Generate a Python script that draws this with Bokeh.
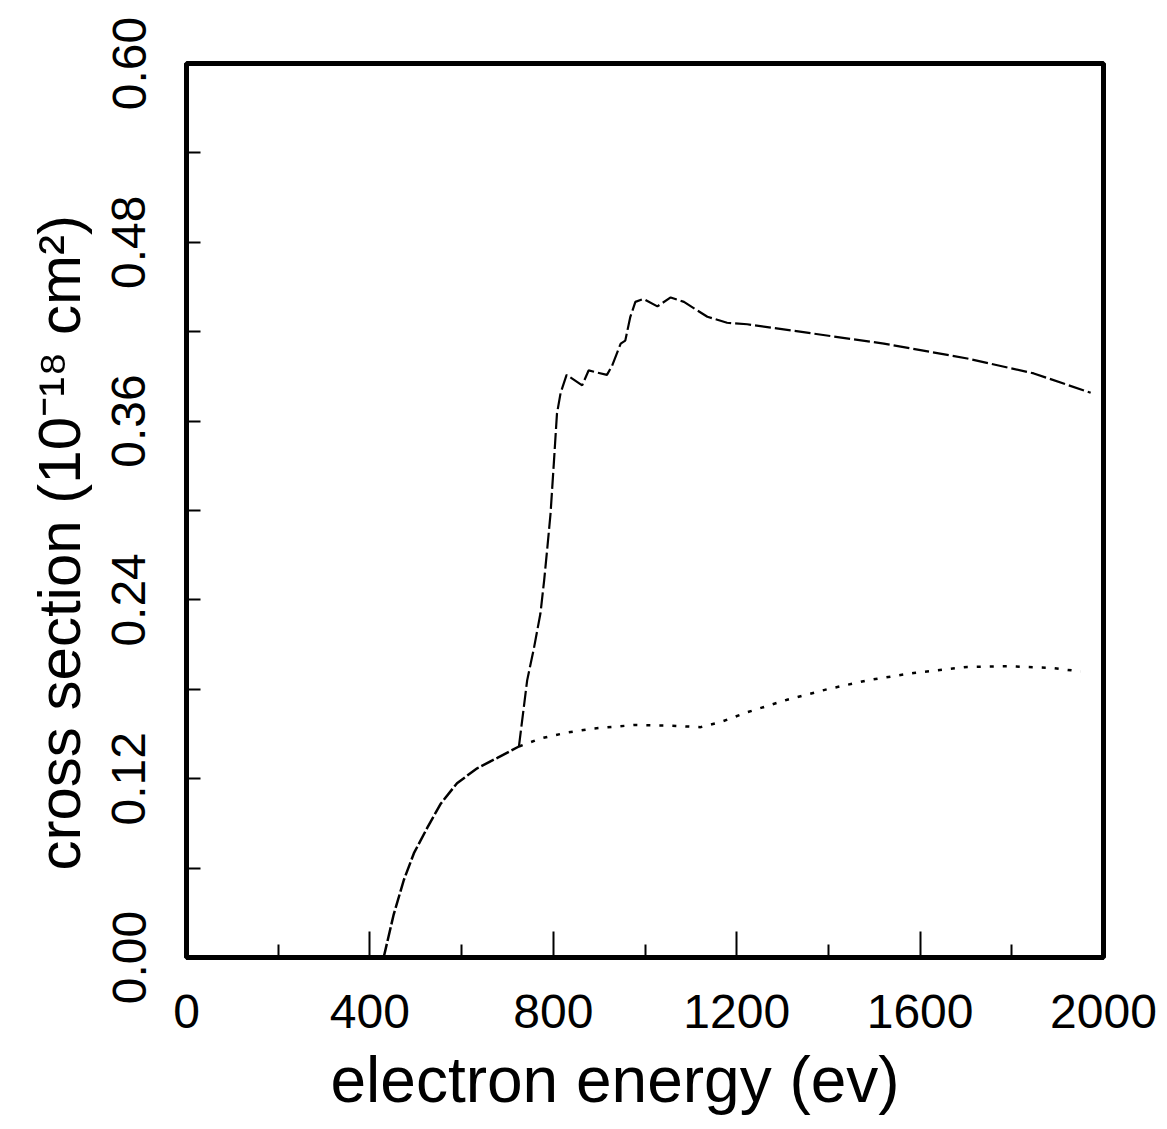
from bokeh.plotting import figure
from bokeh.models import Range1d, FixedTicker, NumeralTickFormatter, Title
from bokeh.embed import file_html
from bokeh.resources import INLINE

# ---- data (electron energy in eV, cross section in 1e-18 cm^2) ----
low_x = [430, 452, 474, 496, 525, 554, 590, 634, 678, 725]
low_y = [0.0, 0.029, 0.052, 0.070, 0.087, 0.103, 0.117, 0.127, 0.134, 0.1416]

up_x = [725, 743, 758, 772, 780, 787, 794, 801, 808, 816, 829, 863, 877, 917, 928,
        947, 957, 968, 979, 997, 1027, 1056, 1085, 1136, 1179, 1223, 1361, 1521,
        1703, 1848, 1972]
up_y = [0.1416, 0.186, 0.208, 0.231, 0.253, 0.275, 0.298, 0.331, 0.365, 0.379,
        0.391, 0.384, 0.394, 0.391, 0.397, 0.412, 0.414, 0.430, 0.440, 0.442,
        0.437, 0.443, 0.440, 0.430, 0.426, 0.425, 0.419, 0.412, 0.402, 0.392, 0.379]

dot_x = [725, 772, 830, 888, 976, 1048, 1121, 1165, 1223, 1310, 1397, 1485, 1586,
         1703, 1790, 1884, 1950]
dot_y = [0.1416, 0.147, 0.151, 0.1537, 0.156, 0.1557, 0.1546, 0.158, 0.1646,
         0.173, 0.180, 0.186, 0.191, 0.195, 0.1955, 0.1944, 0.192]

x_major = [0, 400, 800, 1200, 1600, 2000]
x_minor = [200, 600, 1000, 1400, 1800]
y_major = [0.0, 0.12, 0.24, 0.36, 0.48, 0.60]
y_minor = [0.06, 0.18, 0.30, 0.42, 0.54]

x_title = "electron energy (ev)"
y_title = "cross section (10\u207b\u00b9\u2078 cm\u00b2)"

FONT = "Liberation Sans"

p = figure(width=1167, height=1129,
           x_range=Range1d(0, 2000), y_range=Range1d(0, 0.6),
           output_backend="svg", toolbar_location=None,
           min_border_left=186, min_border_right=64,
           min_border_top=63, min_border_bottom=172)
p.grid.visible = False
p.background_fill_color = "white"
p.border_fill_color = "white"
p.outline_line_color = "black"
p.outline_line_width = 5

# x axis
xa = p.xaxis[0]
xa.ticker = FixedTicker(ticks=x_major, minor_ticks=x_minor)
xa.axis_line_width = 5
xa.major_tick_in = 26
xa.major_tick_out = 0
xa.minor_tick_in = 13
xa.minor_tick_out = 0
xa.major_tick_line_width = 2
xa.minor_tick_line_width = 2
xa.major_label_text_font = FONT
xa.major_label_text_font_size = "48px"
xa.major_label_text_color = "black"
xa.major_label_standoff = 37

# y axis
ya = p.yaxis[0]
ya.ticker = FixedTicker(ticks=y_major, minor_ticks=y_minor)
ya.formatter = NumeralTickFormatter(format="0.00")
ya.axis_line_width = 5
ya.major_tick_in = 14
ya.major_tick_out = 0
ya.minor_tick_in = 14
ya.minor_tick_out = 0
ya.major_tick_line_width = 2
ya.minor_tick_line_width = 2
ya.major_label_text_font = FONT
ya.major_label_text_font_size = "48px"
ya.major_label_text_color = "black"
ya.major_label_orientation = "vertical"
ya.major_label_standoff = 41

# curves
p.line(low_x, low_y, line_color="black", line_width=2.5, line_dash="14 3")
p.line(up_x, up_y, line_color="black", line_width=2.2, line_dash="16 4")
p.line(dot_x, dot_y, line_color="black", line_width=2.5, line_dash="4 9")

# titles
p.add_layout(Title(text=x_title, align="left", offset=144, standoff=22,
                   text_font=FONT, text_font_size="64px",
                   text_font_style="normal", text_color="black"), "below")
p.add_layout(Title(text=y_title, align="left", offset=87, standoff=34,
                   text_font=FONT, text_font_size="60px",
                   text_font_style="normal", text_color="black"), "left")

open("out.html", "w").write(file_html(p, INLINE))
